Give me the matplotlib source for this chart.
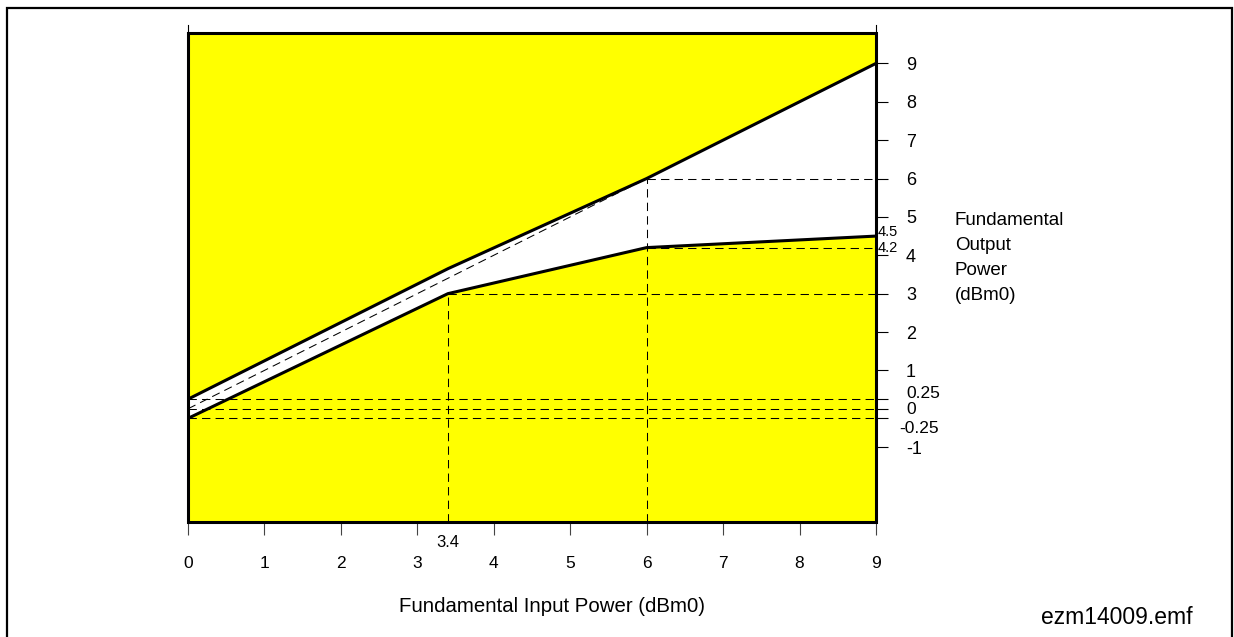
import matplotlib.pyplot as plt
import matplotlib.transforms as mtransforms
from matplotlib.patches import Rectangle

plt.rcParams['font.family'] = ['Liberation Sans', 'DejaVu Sans']

# input power (dBm0)
x_pts = [0, 3.4, 6, 9]
upper = [0.25, 3.65, 6, 9]     # upper limit of output power
lower = [-0.25, 3, 4.2, 4.5]   # lower limit of output power
ref_line_x = [0, 6]
ref_line_y = [0, 6]
band_lo, band_hi = -2.95, 9.78

x_ticks = [0, 1, 2, 3, 4, 5, 6, 7, 8, 9]
y_ticks = [9, 8, 7, 6, 5, 4, 3, 2, 1, 0.25, 0, -0.25, -1]
y_ticklabels = ['9', '8', '7', '6', '5', '4', '3', '2', '1', '', '', '', '-1']
small_labels = {0.25: ('0.25', 22, 4), 0: ('0', 22, -0.5), -0.25: ('-0.25', 17, -7)}
right_label = ['Fundamental', 'Output', 'Power', '(dBm0)']

fig = plt.figure(figsize=(12.34, 6.37), dpi=100)
ax = fig.add_axes([188/1234, 1-522/637, 688/1234, (522-25)/637])
ax.set_xlim(0, 9)
ax.set_ylim(-2.95, 10)

yellow = '#ffff00'
ax.add_patch(Rectangle((0, band_lo), 9, band_hi - band_lo, facecolor=yellow,
                       edgecolor='none', zorder=1))
ax.fill_between(x_pts, lower, upper, facecolor='white', edgecolor='none', zorder=2)

dash = dict(color='black', lw=0.75, linestyle=(0, (8, 5)), zorder=3)
for yv in [0.25, 0, -0.25]:
    ax.plot([0, 9], [yv, yv], **dash)
ax.plot(ref_line_x, ref_line_y, **dash)
ax.plot([3.4, 9], [3, 3], **dash)
ax.plot([3.4, 3.4], [band_lo, 3], **dash)
ax.plot([6, 9], [6, 6], **dash)
ax.plot([6, 9], [4.2, 4.2], **dash)
ax.plot([6, 6], [band_lo, 6], **dash)

ax.plot(x_pts, upper, color='black', lw=2.2, zorder=4, solid_joinstyle='miter')
ax.plot(x_pts, lower, color='black', lw=2.2, zorder=4, solid_joinstyle='miter')
ax.add_patch(Rectangle((0, band_lo), 9, band_hi - band_lo, facecolor='none',
                       edgecolor='black', lw=2.2, zorder=5, clip_on=False))

ax.spines['top'].set_visible(False)
for s in ['left', 'right', 'bottom']:
    ax.spines[s].set_linewidth(0.8)
ax.set_facecolor('none')

ax.set_xticks(x_ticks)
ax.set_xticklabels([str(v) for v in x_ticks])
ax.tick_params(axis='x', direction='out', length=9.5, width=0.8, pad=15,
               labelsize=12.5, color='#444444')
ax.yaxis.tick_right()
ax.set_yticks(y_ticks)
ax.set_yticklabels(y_ticklabels)
ax.tick_params(axis='y', direction='out', length=8.6, width=0.8, pad=13,
               labelsize=13)

tr = mtransforms.blended_transform_factory(ax.transAxes, ax.transData)
for yv, (txt, dx, dy) in small_labels.items():
    ax.annotate(txt, xy=(1, yv), xycoords=tr, xytext=(dx, dy),
                textcoords='offset points', ha='left', va='center', fontsize=12.5)
for yv, txt in [(4.6, '4.5'), (4.18, '4.2')]:
    ax.annotate(txt, xy=(1, yv), xycoords=tr, xytext=(1.5, 0),
                textcoords='offset points', ha='left', va='center', fontsize=10.5)

trx = mtransforms.blended_transform_factory(ax.transData, ax.transAxes)
ax.annotate('3.4', xy=(3.4, 0), xycoords=trx, xytext=(0, -14.5),
            textcoords='offset points', ha='center', va='center', fontsize=12)

fig.text(552/1234, 1-606/637, 'Fundamental Input Power (dBm0)', ha='center',
         va='center', fontsize=14.7)
for i, line in enumerate(right_label):
    fig.text(955/1234, 1-(225 + 25*i)/637, line, ha='left', va='baseline',
             fontsize=13.5)
fig.text(1117/1234, 1-617/637, 'ezm14009.emf', ha='center', va='center', fontsize=16.5)

fig.add_artist(Rectangle((7/1234, -0.05), 1225/1234, 1.05 - 8/637, transform=fig.transFigure,
                         facecolor='none', edgecolor='black', lw=1.6))

plt.savefig('out.png', dpi=100)
